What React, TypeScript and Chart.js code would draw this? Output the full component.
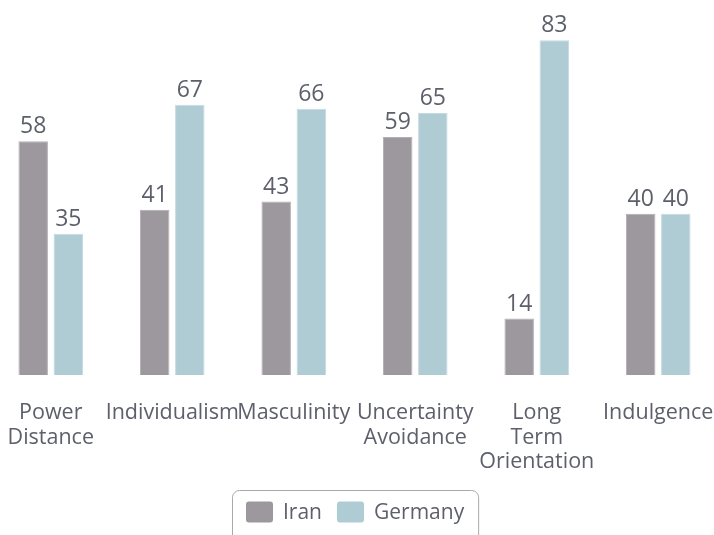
import React, { useEffect, useRef } from "react";
import { Chart, registerables } from "chart.js";

Chart.register(...registerables);

const categories: (string | string[])[] = [
  ["Power", "Distance"],
  "Individualism",
  "Masculinity",
  ["Uncertainty", "Avoidance"],
  ["Long", "Term", "Orientation"],
  "Indulgence",
];
const iranValues = [58, 41, 43, 59, 14, 40];
const germanyValues = [35, 67, 66, 65, 83, 40];
const seriesNames = ["Iran", "Germany"];
const seriesColors = ["#9c989d", "#afcbd3"];

const FONT = "'Open Sans', sans-serif";
const TEXT = "#5d5f6b";

const valueLabels = {
  id: "valueLabels",
  afterDatasetsDraw(chart: any) {
    const ctx = chart.ctx;
    ctx.save();
    ctx.font = `23px ${FONT}`;
    ctx.fillStyle = TEXT;
    ctx.textAlign = "center";
    ctx.textBaseline = "alphabetic";
    chart.data.datasets.forEach((ds: any, di: number) => {
      const meta = chart.getDatasetMeta(di);
      meta.data.forEach((bar: any, i: number) => {
        ctx.fillText(String(ds.data[i]), bar.x, bar.y - 8);
      });
    });
    ctx.restore();
  },
};

const boxLegend = {
  id: "boxLegend",
  afterDraw(chart: any) {
    const ctx = chart.ctx;
    ctx.save();
    ctx.font = `21px ${FONT}`;
    const sw = 27;
    const sh = 21;
    const gapText = 10;
    const gapItem = 15;
    const pad = 14;
    const widths = chart.data.datasets.map((ds: any) => ctx.measureText(ds.label).width);
    let total = pad * 2;
    widths.forEach((w: number, i: number) => {
      total += sw + gapText + w + (i > 0 ? gapItem : 0);
    });
    const cx = chart.width / 2 + 1;
    const left = Math.round(cx - total / 2);
    const top = 490;
    const bottom = 545;
    const r = 7;
    ctx.strokeStyle = "#a9a9a9";
    ctx.lineWidth = 1;
    ctx.beginPath();
    ctx.roundRect(left + 0.5, top + 0.5, total, bottom - top, r);
    ctx.stroke();
    let x = left + pad;
    const cy = 512;
    chart.data.datasets.forEach((ds: any, i: number) => {
      if (i > 0) x += gapItem;
      ctx.fillStyle = ds.backgroundColor;
      ctx.beginPath();
      ctx.roundRect(x, cy - sh / 2, sw, sh, 3);
      ctx.fill();
      x += sw + gapText;
      ctx.fillStyle = TEXT;
      ctx.textAlign = "left";
      ctx.textBaseline = "middle";
      ctx.fillText(ds.label, x, cy + 1);
      x += widths[i];
    });
    ctx.restore();
  },
};

export default function App() {
  const ref = useRef<HTMLCanvasElement | null>(null);
  useEffect(() => {
    document.body.style.margin = "0";
    document.body.style.overflow = "hidden";
    const chart = new Chart(ref.current as HTMLCanvasElement, {
      type: "bar",
      data: {
        labels: categories,
        datasets: [
          {
            label: seriesNames[0],
            data: iranValues,
            backgroundColor: seriesColors[0],
            borderColor: "#b3afb4",
            borderWidth: 1,
          },
          {
            label: seriesNames[1],
            data: germanyValues,
            backgroundColor: seriesColors[1],
            borderColor: "#c3dbe1",
            borderWidth: 1,
          },
        ],
      },
      options: {
        animation: false,
        responsive: false,
        maintainAspectRatio: false,
        layout: { padding: 0 },
        datasets: {
          bar: { categoryPercentage: 0.578, barPercentage: 0.84 },
        },
        plugins: {
          legend: { display: false },
          tooltip: { enabled: false },
        },
        scales: {
          x: {
            grid: { display: false },
            border: { display: false },
            ticks: {
              autoSkip: false,
              maxRotation: 0,
              minRotation: 0,
              padding: 18,
              color: TEXT,
              font: { family: FONT, size: 21.5, lineHeight: 1.14 },
            },
            afterFit(scale: any) {
              scale.height = 160;
              scale.paddingLeft = 0;
              scale.paddingRight = 0;
            },
          },
          y: {
            display: false,
            min: 0,
            max: 93,
          },
        },
      },
      plugins: [valueLabels, boxLegend],
    });
    return () => chart.destroy();
  }, []);
  return (
    <div style={{ position: "relative", width: 714, height: 535, overflow: "hidden" }}>
      <canvas
        ref={ref}
        width={729}
        height={535}
        style={{ position: "absolute", left: -10, top: 0, width: 729, height: 535 }}
      />
    </div>
  );
}
